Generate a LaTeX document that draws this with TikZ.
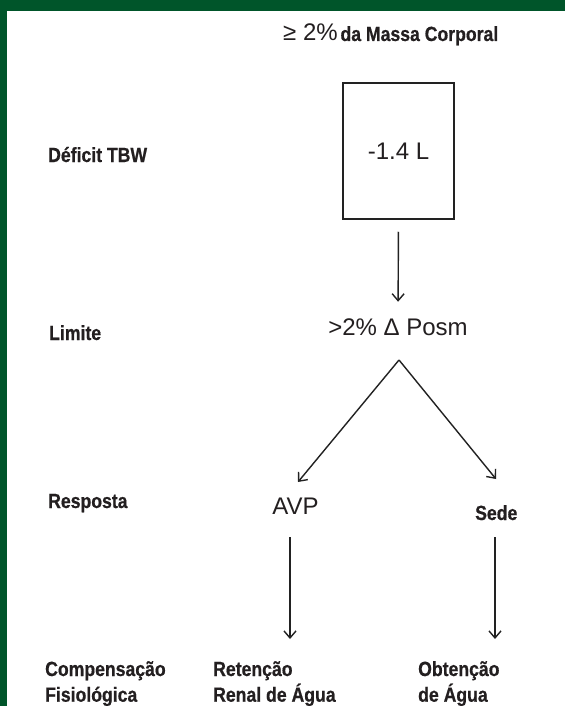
\documentclass[tikz,border=0pt]{standalone}
\usepackage{fontspec}
\setmainfont{Liberation Sans}
\newfontfamily\condfont[FakeStretch=0.86, BoldFeatures={FakeBold=0.6}]{Liberation Sans}
\usetikzlibrary{arrows.meta}
\definecolor{bandgreen}{HTML}{00552A}
\definecolor{ink}{HTML}{231F20}
\definecolor{lineink}{HTML}{222222}
\begin{document}
\begin{tikzpicture}[x=1pt,y=-1pt,
  lbl/.style={anchor=base west, inner sep=0pt, font=\condfont\bfseries\fontsize{20.5}{25.7}\selectfont, text=ink, align=left},
  reg/.style={anchor=base, inner sep=0pt, font=\fontsize{24}{28}\selectfont, text=ink},
  arr/.style={draw=lineink, line width=1.4pt, -{Straight Barb[length=7pt,width=12pt]}},
  boxstyle/.style={draw=lineink, line width=1.5pt, minimum width=111pt, minimum height=136pt, inner sep=0pt, font=\fontsize{24}{28}\selectfont, text=ink}
]
\useasboundingbox (0,0) rectangle (565,706);
\fill[white] (0,0) rectangle (565,706);
\fill[bandgreen] (0,0) rectangle (565,11);
\fill[bandgreen] (0,0) rectangle (7,706);

% title
\node[anchor=base west, inner sep=0pt, text=ink] (title) at (283,41)
  {{\fontsize{24}{28}\selectfont ≥ 2\%} {\condfont\bfseries\fontsize{20.5}{25.7}\selectfont da Massa Corporal}};

% left labels
\node[lbl] (deficit) at (48,162) {Déficit TBW};
\node[lbl] (limite) at (49,340) {Limite};
\node[lbl] (resposta) at (48,508) {Resposta};
\node[lbl] (comp) at (45,701.7) {Compensação\\Fisiológica};

% main chain
\node[boxstyle] (box) at (398.5,151) {-1.4 L};
\node[reg] (posm) at (398,335.7) {>2\% Δ Posm};
\node[reg] (avp) at (295.5,514) {AVP};
\node[lbl] (sede) at (475,520) {Sede};
\node[lbl] (ret) at (213,701.7) {Retenção\\Renal de Água};
\node[lbl] (obt) at (418,701.7) {Obtenção\\de Água};

% connector points
\coordinate (split) at (399,360);
\coordinate (avpin) at (298,482);
\coordinate (sedein) at (496,479);
\coordinate (avpout) at (290,537);
\coordinate (retin) at (290,639);
\coordinate (sedeout) at (495,537);
\coordinate (obtin) at (495,639);

\draw[arr, shorten <=12pt, shorten >=17pt] (box.south) -- (posm.north);
\draw[arr] (split) -- (avpin);
\draw[arr] (split) -- (sedein);
\draw[arr] (avpout) -- (retin);
\draw[arr] (sedeout) -- (obtin);
\end{tikzpicture}
\end{document}
